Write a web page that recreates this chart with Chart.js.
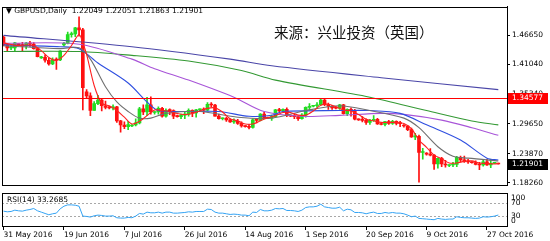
<!DOCTYPE html>
<html>
<head>
<meta charset="utf-8">
<script src="https://cdn.jsdelivr.net/npm/chart.js@4.4.0/dist/chart.umd.min.js"></script>
<style>
html, body { margin: 0; padding: 0; background: #fff; }
#wrap { position: relative; width: 550px; height: 241px; overflow: hidden; background: #fff; }
#main { position: absolute; left: 0; top: 0; }
#rsi { position: absolute; left: 0; top: 191px; }
.txt { position: absolute; white-space: nowrap; font-family: "DejaVu Sans", sans-serif; color: #000; }
</style>
</head>
<body>
<div id="wrap">
  <canvas id="main" width="550" height="191"></canvas>
  <canvas id="rsi" width="550" height="50"></canvas>
  <div class="txt" style="left:6px; top:6px; font-size:7.5px; line-height:9px;">&#9660;&nbsp;GBPUSD,Daily&nbsp;&nbsp;1.22049 1.22051 1.21863 1.21901</div>
  <div class="txt" style="left:274px; top:23px; font-size:14.5px; line-height:18px; font-family:'Noto Sans CJK SC', sans-serif; color:#111;">来源：兴业投资（英国）</div>
  <div class="txt" style="left:7px; top:195px; font-size:7.5px; line-height:9px;">RSI(14) 33.2685</div>
</div>
<script>
// daily bars, index 0 = 31 May 2016 (broker has Sunday bars)
var opens = [1.4630,1.4485,1.4425,1.4425,1.4490,1.4485,1.4455,1.4515,1.4495,1.4410,
  1.4230,1.4240,1.4185,1.4115,1.4195,1.4190,1.4480,1.4510,1.4680,1.4690,
  1.4810,1.4770,1.3580,1.3500,1.3220,1.3350,1.3420,1.3310,1.3280,1.3270,
  1.3290,1.3020,1.2940,1.2910,1.2920,1.2940,1.2980,1.3250,1.3190,1.3330,
  1.3180,1.3190,1.3260,1.3110,1.3220,1.3215,1.3110,1.3100,1.3130,1.3150,
  1.3220,1.3170,1.3230,1.3240,1.3225,1.3340,1.3325,1.3110,1.3060,1.3070,
  1.3040,1.3000,1.3010,1.2970,1.2920,1.2910,1.2895,1.3040,1.3030,1.3150,
  1.3080,1.3070,1.3100,1.3230,1.3215,1.3240,1.3120,1.3110,1.3100,1.3060,
  1.3130,1.3280,1.3300,1.3310,1.3330,1.3420,1.3330,1.3300,1.3270,1.3265,
  1.3330,1.3160,1.3240,1.3220,1.3050,1.3040,1.3030,1.2990,1.3030,1.3050,
  1.2960,1.2950,1.3005,1.2970,1.3010,1.2970,1.2930,1.2920,1.2850,1.2710,
  1.2720,1.2410,1.2400,1.2380,1.2360,1.2190,1.2300,1.2190,1.2160,1.2170,
  1.2180,1.2320,1.2270,1.2240,1.2220,1.2215,1.2180,1.2170,1.2230,1.2170,
  1.2200,1.22049];
var highs = [1.4650,1.4490,1.4470,1.4530,1.4500,1.4530,1.4530,1.4550,1.4525,1.4425,
  1.4260,1.4290,1.4225,1.4230,1.4230,1.4370,1.4530,1.4730,1.4730,1.4820,
  1.5020,1.4800,1.3620,1.3560,1.3390,1.3510,1.3440,1.3400,1.3300,1.3330,
  1.3300,1.3030,1.3000,1.3010,1.2950,1.3060,1.3280,1.3330,1.3470,1.3480,
  1.3200,1.3290,1.3280,1.3250,1.3250,1.3230,1.3130,1.3150,1.3190,1.3250,
  1.3230,1.3240,1.3250,1.3270,1.3370,1.3370,1.3340,1.3150,1.3080,1.3090,
  1.3060,1.3060,1.3050,1.3000,1.2930,1.2950,1.3060,1.3070,1.3160,1.3190,
  1.3090,1.3130,1.3240,1.3260,1.3250,1.3270,1.3130,1.3150,1.3110,1.3160,
  1.3290,1.3350,1.3320,1.3370,1.3445,1.3440,1.3360,1.3320,1.3290,1.3340,
  1.3340,1.3250,1.3270,1.3240,1.3060,1.3100,1.3060,1.3050,1.3120,1.3070,
  1.2970,1.3010,1.3030,1.3030,1.3020,1.3010,1.2950,1.2930,1.2880,1.2780,
  1.2745,1.2490,1.2410,1.2485,1.2370,1.2310,1.2320,1.2260,1.2175,1.2220,
  1.2335,1.2340,1.2340,1.2280,1.2230,1.2250,1.2220,1.2260,1.2280,1.2280,
  1.2210,1.22051];
var lows = [1.4460,1.4355,1.4390,1.4370,1.4470,1.4350,1.4405,1.4450,1.4400,1.4250,
  1.4220,1.4150,1.4090,1.4100,1.4010,1.4180,1.4460,1.4500,1.4630,1.4640,
  1.4650,1.3230,1.3450,1.3120,1.3220,1.3330,1.3210,1.3250,1.3250,1.3230,
  1.2990,1.2800,1.2870,1.2850,1.2910,1.2920,1.2960,1.3140,1.3120,1.3150,
  1.3150,1.3150,1.3090,1.3090,1.3140,1.3060,1.3090,1.3060,1.3060,1.3110,
  1.3100,1.3090,1.3210,1.3160,1.3210,1.3290,1.3110,1.3050,1.3040,1.3010,
  1.2990,1.2970,1.2950,1.2900,1.2900,1.2865,1.2880,1.2980,1.3020,1.3060,
  1.3060,1.3030,1.3090,1.3190,1.3200,1.3100,1.3100,1.3060,1.3030,1.3050,
  1.3090,1.3230,1.3290,1.3280,1.3320,1.3310,1.3240,1.3240,1.3250,1.3240,
  1.3150,1.3120,1.3110,1.3040,1.3030,1.3000,1.2950,1.2950,1.3010,1.2950,
  1.2940,1.2920,1.2950,1.2950,1.2940,1.2910,1.2900,1.2830,1.2700,1.2660,
  1.1840,1.2280,1.2360,1.2345,1.2085,1.2110,1.2140,1.2130,1.2140,1.2140,
  1.2140,1.2230,1.2220,1.2200,1.2205,1.2170,1.2080,1.2150,1.2160,1.2120,
  1.2195,1.21863];
var closes = [1.4485,1.4425,1.4425,1.4520,1.4485,1.4455,1.4515,1.4495,1.4410,1.4255,
  1.4240,1.4185,1.4115,1.4195,1.4190,1.4360,1.4510,1.4680,1.4690,1.4810,
  1.4770,1.3660,1.3500,1.3220,1.3350,1.3420,1.3310,1.3280,1.3270,1.3290,
  1.3020,1.2940,1.2910,1.2950,1.2940,1.2980,1.3250,1.3190,1.3330,1.3190,
  1.3190,1.3260,1.3110,1.3220,1.3215,1.3110,1.3100,1.3130,1.3150,1.3220,
  1.3170,1.3230,1.3240,1.3225,1.3340,1.3325,1.3110,1.3060,1.3070,1.3040,
  1.3000,1.3010,1.2970,1.2920,1.2910,1.2895,1.3040,1.3030,1.3150,1.3080,
  1.3070,1.3100,1.3230,1.3215,1.3240,1.3120,1.3110,1.3100,1.3060,1.3130,
  1.3280,1.3300,1.3310,1.3330,1.3420,1.3330,1.3300,1.3270,1.3265,1.3330,
  1.3160,1.3240,1.3220,1.3050,1.3040,1.3030,1.2990,1.3030,1.3050,1.2960,
  1.2950,1.3005,1.2970,1.3010,1.2970,1.2965,1.2920,1.2850,1.2710,1.2730,
  1.2410,1.2430,1.2380,1.2360,1.2190,1.2300,1.2190,1.2170,1.2170,1.2180,
  1.2320,1.2270,1.2240,1.2230,1.2215,1.2180,1.2170,1.2230,1.2170,1.2200,
  1.2205,1.21901];

// moving averages at a few bars
var maRedIdx = [0,2,4,6,8,10,12,14,16,18,20,21,22,24,26,28,30,32,34,36,38,40,42,44,46,48,50,52,54,56,58,60,62,64,66,68,70,72,74,76,78,80,82,84,86,88,90,92,94,96,98,100,102,104,106,108,110,112,114,116,118,120,122,124,126,128,130,131];
var maRed = [1.452,1.449,1.447,1.448,1.447,1.437,1.424,1.418,1.428,1.447,1.468,1.452,1.430,1.370,1.336,1.331,1.322,1.309,1.296,1.301,1.312,1.323,1.322,1.320,1.316,1.314,1.316,1.321,1.326,1.327,1.319,1.306,1.302,1.296,1.296,1.302,1.308,1.312,1.318,1.318,1.313,1.313,1.321,1.332,1.334,1.329,1.323,1.321,1.314,1.305,1.302,1.299,1.299,1.299,1.297,1.287,1.265,1.251,1.236,1.229,1.221,1.221,1.224,1.225,1.221,1.220,1.219,1.220];
var maGrayIdx = [0,15,20,23,27,30,33,36,39,43,52,62,71,80,89,97,106,110,115,119,123,131];
var maGray = [1.4464,1.4409,1.4427,1.4207,1.3676,1.3383,1.3200,1.3072,1.3072,1.3163,1.3200,1.3090,1.3072,1.3218,1.3310,1.3218,1.3072,1.2888,1.2522,1.2339,1.2302,1.2247];
var maBlueIdx = [0,15,20,25,33,38,41,49,57,65,71,74,89,97,105,112,121,128,131];
var maBlue = [1.4482,1.4445,1.4409,1.4134,1.3749,1.3383,1.3218,1.3200,1.3200,1.3108,1.3127,1.3200,1.3218,1.3218,1.3163,1.2943,1.2650,1.2302,1.2266];
var maPurpleIdx = [0,20,34,40,49,61,69,79,89,100,106,116,124,131];
var maPurple = [1.4513,1.4495,1.4207,1.4024,1.3804,1.3474,1.3199,1.3107,1.3126,1.3163,1.3144,1.3034,1.2888,1.2741];
var maGreenIdx = [0,20,34,49,63,72,97,112,124,131];
var maGreen = [1.4354,1.4354,1.4280,1.4170,1.3987,1.3804,1.3475,1.3218,1.3017,1.2943];
var maNavyIdx = [0,34,60,71,100,131];
var maNavy = [1.4665,1.4445,1.4207,1.4080,1.3850,1.3620];

var rsi = [45,43,44,48,46,45,48,50,53,46,42,38,34,37,39,52,60,64,64,63,
  60,30,29,27,31,33,32,30,30,31,25,24,24,26,25,30,38,36,42,40,
  40,42,39,42,42,39,39,40,41,43,42,44,44,44,51,50,42,39,39,37,
  35,36,35,33,33,31,42,41,50,46,46,48,53,52,53,47,47,46,44,48,
  56,58,58,60,66,58,56,54,54,57,46,51,49,41,41,40,37,40,42,38,
  38,41,39,41,39,39,37,33,28,30,23,22,21,20,19,23,21,20,21,21,
  28,26,25,25,24,23,24,28,27,28,30,33.27];

var levelPrice = 1.34577;
var lastPrice = 1.21901;
var priceTicks = [1.18260, 1.23870, 1.29650, 1.35340, 1.41040, 1.46650];
var rsiTicks = [0, 30, 70, 100];
var rsiLevels = [30, 70];
var tickIdx = [0, 16, 32, 48, 64, 80, 96, 112, 128];
var tickLabels = ['31 May 2016', '19 Jun 2016', '7 Jul 2016', '26 Jul 2016', '14 Aug 2016',
  '1 Sep 2016', '20 Sep 2016', '9 Oct 2016', '27 Oct 2016'];

var UP = '#22dd22', DOWN = '#ff1010';
var FONT = { family: 'DejaVu Sans', size: 7.5 };
var X_MIN = -0.4, X_MAX = 133.3;

function pts(idx, vals) {
    return idx.map(function (x, k) { return { x: x, y: vals[k] }; });
}
function maLine(label, idx, vals, color, order) {
    return {
        type: 'line', label: label, data: pts(idx, vals),
        borderColor: color, borderWidth: 1.1, pointRadius: 0, tension: 0.3, order: order
    };
}

var barColors = closes.map(function (c, i) { return c >= opens[i] ? UP : DOWN; });
var wickData = closes.map(function (c, i) { return { x: i, y: [lows[i], highs[i]] }; });
var bodyData = closes.map(function (c, i) { return { x: i, y: [opens[i], c] }; });

var mainDecor = {
    id: 'mainDecor',
    afterDatasetsDraw: function (chart) {
        var ctx = chart.ctx, a = chart.chartArea, y = chart.scales.y;
        var ly = Math.round(y.getPixelForValue(levelPrice)) + 0.5;
        ctx.save();
        ctx.strokeStyle = '#ff0000';
        ctx.lineWidth = 1;
        ctx.beginPath(); ctx.moveTo(a.left, ly); ctx.lineTo(a.right, ly); ctx.stroke();
        ctx.restore();
    },
    afterDraw: function (chart) {
        var ctx = chart.ctx, a = chart.chartArea, y = chart.scales.y;
        ctx.save();
        ctx.strokeStyle = '#000';
        ctx.lineWidth = 1;
        ctx.strokeRect(Math.round(a.left) + 0.5, Math.round(a.top) + 0.5,
            Math.round(a.right - a.left), Math.round(a.bottom - a.top));
        // price boxes on the axis
        [[levelPrice, '#ff0000'], [lastPrice, '#000000']].forEach(function (b) {
            var py = Math.round(y.getPixelForValue(b[0]));
            ctx.fillStyle = b[1];
            ctx.fillRect(a.right + 1, py - 5, 40, 11);
            ctx.fillStyle = '#fff';
            ctx.font = '7.5px "DejaVu Sans"';
            ctx.textBaseline = 'middle';
            ctx.textAlign = 'left';
            ctx.fillText(b[0].toFixed(5), a.right + 5, py + 0.5);
        });
        ctx.restore();
    }
};

new Chart(document.getElementById('main'), {
    type: 'bar',
    data: {
        datasets: [
            maLine('MA5', maRedIdx, maRed, '#ff2020', 1),
            maLine('MA10', maGrayIdx, maGray, '#707070', 2),
            maLine('MA20', maBlueIdx, maBlue, '#2f4fe0', 3),
            maLine('MA50', maPurpleIdx, maPurple, '#a855d8', 4),
            maLine('MA100', maGreenIdx, maGreen, '#339933', 5),
            maLine('MA200', maNavyIdx, maNavy, '#4a46a8', 6),
            { label: 'body', data: bodyData, backgroundColor: barColors, barThickness: 3,
              minBarLength: 1, grouped: false, order: 10 },
            { label: 'wick', data: wickData, backgroundColor: barColors, barThickness: 1,
              grouped: false, order: 11 }
        ]
    },
    options: {
        responsive: false,
        animation: false,
        devicePixelRatio: 1,
        layout: { padding: { left: 2, top: 3, right: 0, bottom: 1 } },
        plugins: { legend: { display: false }, tooltip: { enabled: false } },
        scales: {
            x: { type: 'linear', min: X_MIN, max: X_MAX, offset: false, display: false },
            y: {
                position: 'right', min: 1.1795, max: 1.5220,
                afterBuildTicks: function (s) { s.ticks = priceTicks.map(function (v) { return { value: v }; }); },
                afterFit: function (s) { s.width = 43; },
                ticks: { callback: function (v) { return v.toFixed(5); }, font: FONT, color: '#000', padding: 2 },
                grid: { drawOnChartArea: false, drawTicks: true, tickLength: 3, color: '#000' },
                border: { display: true, color: '#000' }
            }
        }
    },
    plugins: [mainDecor]
});

var rsiDecor = {
    id: 'rsiDecor',
    beforeDatasetsDraw: function (chart) {
        var ctx = chart.ctx, a = chart.chartArea, y = chart.scales.y;
        ctx.save();
        ctx.strokeStyle = '#a8a8a8';
        ctx.setLineDash([2, 2]);
        rsiLevels.forEach(function (v) {
            var py = Math.round(y.getPixelForValue(v)) + 0.5;
            ctx.beginPath(); ctx.moveTo(a.left, py); ctx.lineTo(a.right, py); ctx.stroke();
        });
        ctx.restore();
    },
    afterDraw: function (chart) {
        var ctx = chart.ctx, a = chart.chartArea, y = chart.scales.y;
        ctx.save();
        ctx.strokeStyle = '#000';
        ctx.lineWidth = 1;
        ctx.strokeRect(Math.round(a.left) + 0.5, Math.round(a.top) + 0.5,
            Math.round(a.right - a.left), Math.round(a.bottom - a.top));
        ctx.fillStyle = '#000';
        ctx.font = '7.5px "DejaVu Sans"';
        ctx.textBaseline = 'middle';
        rsiTicks.forEach(function (v) {
            var py = y.getPixelForValue(v);
            py = Math.min(Math.max(py, a.top + 5), a.bottom - 5);
            ctx.fillText(String(v), a.right + 4, py);
        });
        ctx.restore();
    }
};

new Chart(document.getElementById('rsi'), {
    type: 'line',
    data: {
        datasets: [{
            label: 'RSI(14)', data: rsi.map(function (v, i) { return { x: i, y: v }; }),
            borderColor: '#33a3f4', borderWidth: 1, pointRadius: 0, tension: 0
        }]
    },
    options: {
        responsive: false,
        animation: false,
        devicePixelRatio: 1,
        layout: { padding: { left: 2, top: 2, right: 0, bottom: 0 } },
        plugins: { legend: { display: false }, tooltip: { enabled: false } },
        scales: {
            x: {
                type: 'linear', min: X_MIN, max: X_MAX, position: 'bottom',
                afterBuildTicks: function (s) { s.ticks = tickIdx.map(function (v) { return { value: v }; }); },
                afterFit: function (s) { s.height = 15; },
                ticks: {
                    callback: function (v, i) { return tickLabels[i]; },
                    autoSkip: false, maxRotation: 0, minRotation: 0, align: 'start',
                    font: FONT, color: '#000', padding: 1
                },
                grid: { drawOnChartArea: false, drawTicks: true, tickLength: 4, color: '#000' },
                border: { display: true, color: '#000' }
            },
            y: {
                position: 'right', min: 0, max: 100,
                afterFit: function (s) { s.width = 43; },
                ticks: { display: false },
                grid: { display: false },
                border: { display: true, color: '#000' }
            }
        }
    },
    plugins: [rsiDecor]
});
</script>
</body>
</html>
